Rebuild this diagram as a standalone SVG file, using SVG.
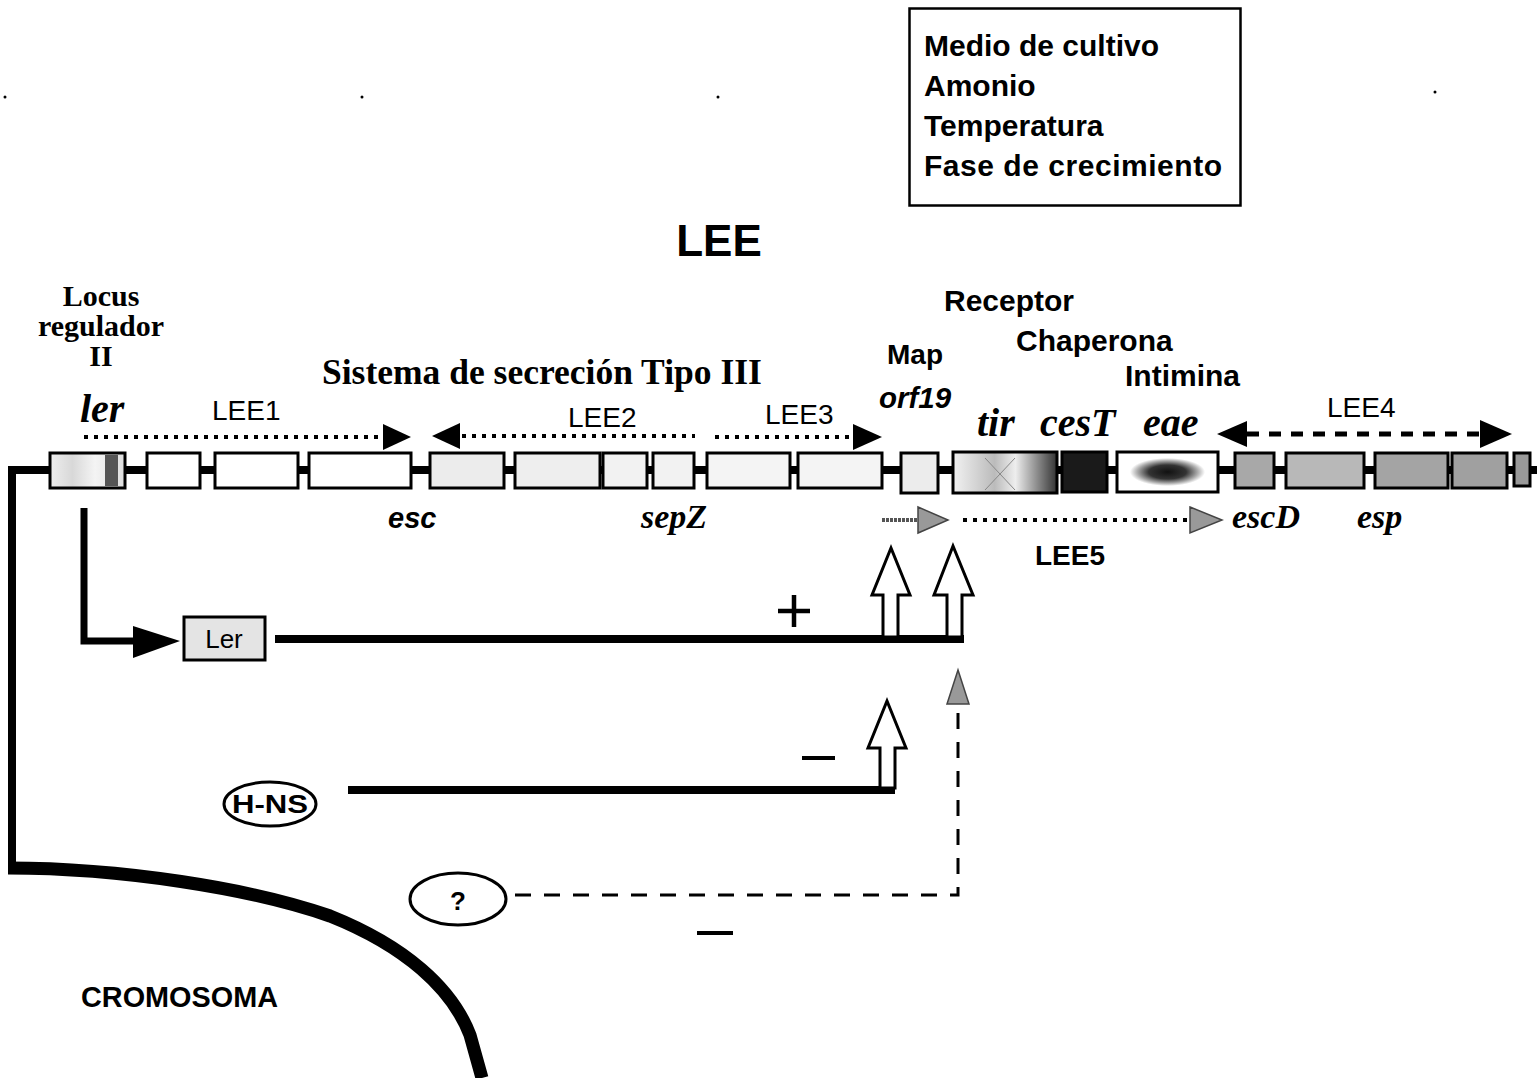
<svg xmlns="http://www.w3.org/2000/svg" width="1537" height="1078" viewBox="0 0 1537 1078">
<style>
.sans{font-family:"Liberation Sans",Arial,sans-serif}
.serif{font-family:"Liberation Serif","Times New Roman",serif}
.b{font-weight:bold}
.i{font-style:italic}
.gene{stroke:#000;stroke-width:3}
.dot{stroke:#000;stroke-width:4;stroke-dasharray:4 6;fill:none}
.thick{stroke:#000;stroke-width:8;fill:none}
.open{fill:#fff;stroke:#000;stroke-width:3;stroke-linejoin:miter}
.dash{stroke:#000;stroke-width:3;fill:none}
</style>
<defs>
<linearGradient id="lerg" x1="0" x2="1" y1="0" y2="0">
<stop offset="0" stop-color="#eee"/><stop offset="0.3" stop-color="#d8d8d8"/><stop offset="0.6" stop-color="#f4f4f4"/><stop offset="1" stop-color="#ddd"/>
</linearGradient>
<linearGradient id="tirg" x1="0" x2="1" y1="0" y2="0">
<stop offset="0" stop-color="#f2f2f2"/><stop offset="0.4" stop-color="#bbb"/><stop offset="0.6" stop-color="#eee"/><stop offset="1" stop-color="#333"/>
</linearGradient>
<radialGradient id="eaeg" cx="0.5" cy="0.5" r="0.5">
<stop offset="0" stop-color="#111"/><stop offset="0.5" stop-color="#333"/><stop offset="0.8" stop-color="#aaa"/><stop offset="1" stop-color="#fff"/>
</radialGradient>
</defs>

<!-- stray dots -->
<g fill="#000">
<circle cx="5" cy="97" r="1.5"/><circle cx="362" cy="97" r="1.5"/><circle cx="718" cy="97" r="1.5"/><circle cx="1076" cy="95" r="1.5"/><circle cx="1435" cy="92" r="1.5"/>
</g>

<!-- legend box -->
<g id="legend">
<rect x="909.5" y="8.5" width="331" height="197" fill="#fff" stroke="#000" stroke-width="2.5"/>
<text class="sans b" font-size="30" x="924" y="56">Medio de cultivo</text>
<text class="sans b" font-size="30" x="924" y="96">Amonio</text>
<text class="sans b" font-size="30" x="924" y="136">Temperatura</text>
<text class="sans b" font-size="30" x="924" y="176" textLength="298" lengthAdjust="spacing">Fase de crecimiento</text>
</g>

<g id="title"><text class="sans b" font-size="44" x="719" y="256" text-anchor="middle">LEE</text></g>

<!-- labels -->
<g id="labels">
<text class="serif b" font-size="30" x="101" y="306" text-anchor="middle">Locus</text>
<text class="serif b" font-size="30" x="101" y="336" text-anchor="middle">regulador</text>
<text class="serif b" font-size="30" x="101" y="366" text-anchor="middle">II</text>
<text class="serif b i" font-size="40" x="80" y="422">ler</text>
<text class="sans" font-size="28" x="212" y="420">LEE1</text>
<text class="serif b" font-size="35.5" x="322" y="384">Sistema de secreción Tipo III</text>
<text class="sans" font-size="28" x="568" y="427">LEE2</text>
<text class="sans" font-size="28" x="765" y="424">LEE3</text>
<text class="sans b" font-size="28" x="887" y="364">Map</text>
<text class="sans b i" font-size="29.5" x="879" y="408">orf19</text>
<text class="sans b" font-size="30" x="944" y="311">Receptor</text>
<text class="sans b" font-size="30" x="1016" y="351">Chaperona</text>
<text class="sans b" font-size="30" x="1125" y="386">Intimina</text>
<text class="serif b i" font-size="40" x="977" y="436">tir</text>
<text class="serif b i" font-size="40" x="1040" y="436">cesT</text>
<text class="serif b i" font-size="40" x="1143" y="436">eae</text>
<text class="sans" font-size="28" x="1327" y="417">LEE4</text>
<text class="sans b i" font-size="29" x="388" y="528">esc</text>
<text class="serif b i" font-size="34" x="641" y="528">sepZ</text>
<text class="serif b i" font-size="34" x="1232" y="528">escD</text>
<text class="serif b i" font-size="34" x="1357" y="528">esp</text>
<text class="sans b" font-size="28" x="1035" y="565">LEE5</text>
<text class="sans b" font-size="29" x="81" y="1007" textLength="197" lengthAdjust="spacingAndGlyphs">CROMOSOMA</text>
</g>

<!-- connectors -->
<g id="connectors">
<!-- chromosome / left line -->
<path d="M12,466 L12,868" class="thick"/>
<path d="M8,868 C120,868 250,888 330,916 C405,946 452,988 470,1035 L482,1078" fill="none" stroke="#000" stroke-width="13"/>
<!-- gene line -->
<line x1="8" y1="470" x2="1537" y2="470" stroke="#000" stroke-width="8"/>
<!-- LEE operon arrows -->
<line x1="84" y1="437" x2="385" y2="437" class="dot"/>
<polygon points="383,424 411,437 383,450" fill="#000"/>
<polygon points="460,423 432,436 460,449" fill="#000"/>
<line x1="462" y1="436" x2="695" y2="436" class="dot"/>
<line x1="715" y1="437" x2="855" y2="437" class="dot"/>
<polygon points="853,424 882,437 853,450" fill="#000"/>
<polygon points="1247,421 1217,434 1247,447" fill="#000"/>
<line x1="1247" y1="434" x2="1480" y2="434" stroke="#000" stroke-width="5" stroke-dasharray="12 10"/>
<polygon points="1480,420 1512,434 1480,448" fill="#000"/>
<!-- LEE5 -->
<line x1="882" y1="520" x2="918" y2="520" stroke="#555" stroke-width="4" stroke-dasharray="3 1"/>
<polygon points="918,507 948,520 918,533" fill="#999" stroke="#444" stroke-width="1.5"/>
<line x1="963" y1="520" x2="1190" y2="520" class="dot"/>
<polygon points="1190,507 1222,520 1190,533" fill="#999" stroke="#444" stroke-width="1.5"/>
<!-- ler -> Ler -->
<path d="M84,508 L84,641 L140,641" fill="none" stroke="#000" stroke-width="7"/>
<polygon points="133,626 180,641 133,658" fill="#000"/>
<!-- Ler positive -->
<line x1="275" y1="639" x2="964" y2="639" stroke="#000" stroke-width="8"/>
<polygon class="open" points="883,637 883,595 872,595 891,548 910,595 898,595 898,637"/>
<polygon class="open" points="947,637 947,595 934,595 953,546 973,595 962,595 962,637"/>
<path d="M778,611 L810,611 M794,595 L794,627" stroke="#000" stroke-width="4.5"/>
<!-- H-NS negative -->
<line x1="348" y1="790" x2="895" y2="790" stroke="#000" stroke-width="8"/>
<polygon class="open" points="880,788 880,748 868,748 887,701 906,748 895,748 895,788"/>
<line x1="802" y1="758" x2="835" y2="758" stroke="#000" stroke-width="4"/>
<!-- ? negative dashed -->
<path d="M515,895 L958,895 L958,706" class="dash" stroke-dasharray="16 13"/>
<polygon points="958,670 947,704 969,704" fill="#999" stroke="#444" stroke-width="1.5"/>
<line x1="697" y1="933" x2="733" y2="933" stroke="#000" stroke-width="4"/>
</g>

<!-- genes -->
<g id="genes">
<g id="gene-ler"><rect x="50" y="453" width="75" height="35" fill="url(#lerg)" class="gene"/><rect x="105" y="455" width="13" height="31" fill="#555"/></g>
<rect id="g2" x="147" y="453" width="53" height="35" fill="#fff" class="gene"/>
<rect id="g3" x="215" y="453" width="83" height="35" fill="#fff" class="gene"/>
<rect id="g4" x="309" y="453" width="102" height="35" fill="#fff" class="gene"/>
<rect id="g5" x="430" y="453" width="74" height="35" fill="#ececec" class="gene"/>
<rect id="g6" x="515" y="453" width="85" height="35" fill="#eeeeee" class="gene"/>
<rect id="g7" x="603" y="453" width="44" height="35" fill="#f2f2f2" class="gene"/>
<rect id="g8" x="653" y="453" width="41" height="35" fill="#f2f2f2" class="gene"/>
<rect id="g9" x="707" y="453" width="83" height="35" fill="#f4f4f4" class="gene"/>
<rect id="g10" x="798" y="453" width="84" height="35" fill="#f4f4f4" class="gene"/>
<rect id="gene-orf19" x="901" y="453" width="37" height="40" fill="#ececec" class="gene"/>
<g id="gene-tir"><rect x="953" y="452" width="104" height="41" fill="url(#tirg)" class="gene"/><path d="M985,458 L1015,490 M1015,458 L985,490" stroke="#888" stroke-width="1"/></g>
<rect id="gene-cesT" x="1062" y="452" width="45" height="40" fill="#1a1a1a" class="gene"/>
<g id="gene-eae"><rect x="1117" y="452" width="101" height="40" fill="#fff" class="gene"/><rect x="1130" y="458" width="75" height="28" fill="url(#eaeg)"/></g>
<rect id="g15" x="1235" y="453" width="39" height="35" fill="#a8a8a8" class="gene"/>
<rect id="g16" x="1286" y="453" width="78" height="35" fill="#b8b8b8" class="gene"/>
<rect id="g17" x="1375" y="453" width="73" height="35" fill="#a4a4a4" class="gene"/>
<rect id="g18" x="1452" y="453" width="55" height="35" fill="#a0a0a0" class="gene"/>
<rect id="g19" x="1514" y="453" width="16" height="33" fill="#999" class="gene"/>
</g>

<!-- protein nodes -->
<g id="node-Ler"><rect x="184" y="617" width="81" height="43" fill="#e4e4e4" stroke="#000" stroke-width="3"/><text class="sans" font-size="26" x="224" y="648" text-anchor="middle">Ler</text></g>
<g id="node-HNS"><ellipse cx="270" cy="804" rx="46" ry="22" fill="#fff" stroke="#000" stroke-width="3"/><text class="sans b" font-size="25" x="270" y="813" text-anchor="middle" textLength="76" lengthAdjust="spacingAndGlyphs">H-NS</text></g>
<g id="node-q"><ellipse cx="458" cy="899" rx="48" ry="26" fill="#fff" stroke="#000" stroke-width="3"/><text class="sans b" font-size="26" x="458" y="910" text-anchor="middle">?</text></g>
</svg>
